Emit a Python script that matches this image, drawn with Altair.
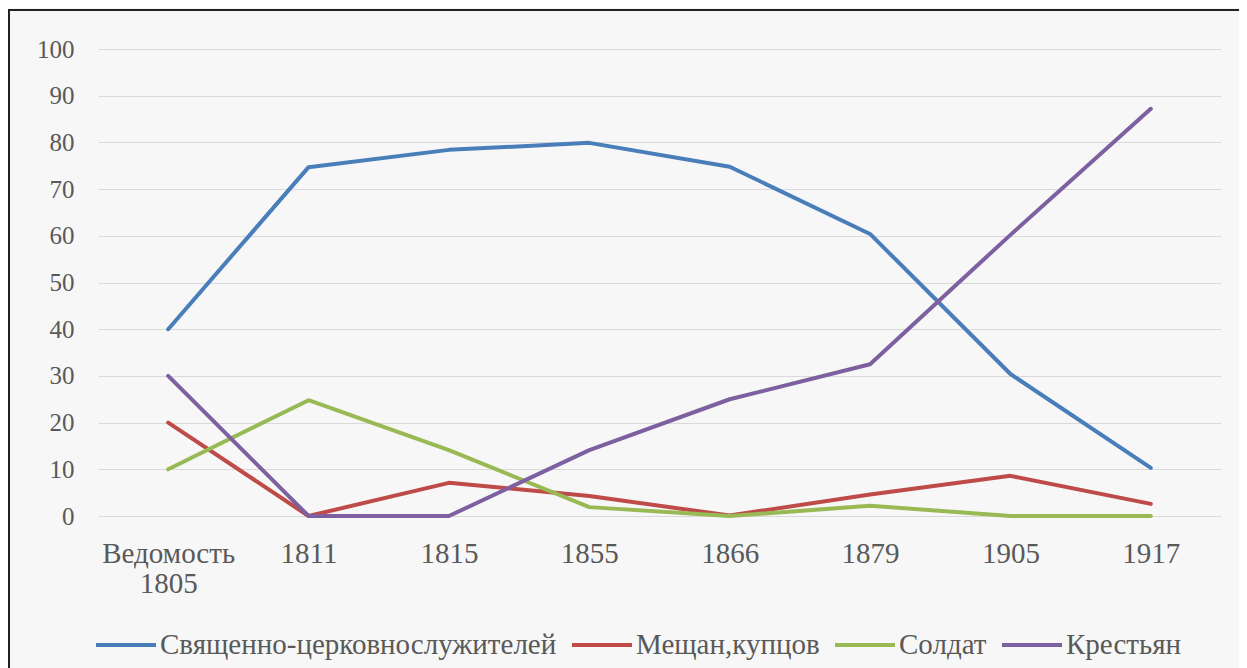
import altair as alt
import pandas as pd

categories = ["Ведомость 1805", "1811", "1815", "1855", "1866", "1879", "1905", "1917"]
series_names = ["Священно-церковнослужителей", "Мещан,купцов", "Солдат", "Крестьян"]
clergy = [40, 74.7, 78.4, 79.9, 74.8, 60.4, 30.4, 10.3]
merchants = [20, 0, 7.1, 4.3, 0.1, 4.6, 8.6, 2.6]
soldiers = [10, 24.8, 14.1, 1.9, 0, 2.2, 0, 0]
peasants = [30, 0, 0, 14.1, 25.0, 32.5, 60.2, 87.2]
colors = ["#4A7EBB", "#BE4B48", "#98B954", "#7D60A0"]
y_ticks = list(range(0, 101, 10))

rows = []
for name, vals in zip(series_names, [clergy, merchants, soldiers, peasants]):
    for c, v in zip(categories, vals):
        rows.append({"cat": c, "series": name, "value": v})
df = pd.DataFrame(rows)

FONT = "Liberation Serif"
GREY = "#595959"

lines = alt.Chart(df).mark_line(strokeWidth=4, strokeCap="round", strokeJoin="round").encode(
    x=alt.X("cat:N", sort=categories, scale=alt.Scale(type="point", padding=0.5),
            axis=alt.Axis(title=None, labelAngle=0, domain=False, ticks=False, grid=False,
                          labelPadding=23, labelFontSize=29, labelColor=GREY, labelFont=FONT,
                          labelLineHeight=30,
                          labelExpr="datum.label == 'Ведомость 1805' ? ['Ведомость', '1805'] : datum.label")),
    y=alt.Y("value:Q", scale=alt.Scale(domain=[0, 100], nice=False),
            axis=alt.Axis(title=None, values=y_ticks, domain=False, ticks=False, grid=True,
                          gridColor="#D9D9D9", gridWidth=1, labelPadding=24, labelFontSize=25,
                          labelColor=GREY, labelFont=FONT)),
    color=alt.Color("series:N", sort=series_names,
                    scale=alt.Scale(domain=series_names, range=colors),
                    legend=alt.Legend(title=None, orient="none", direction="horizontal",
                                      legendX=-4, legendY=564, symbolType="stroke",
                                      symbolSize=3600, symbolStrokeWidth=4, labelFontSize=29,
                                      labelFont=FONT, labelColor=GREY, labelOffset=2,
                                      columnPadding=7, labelLimit=600)),
)

frame = alt.Chart(pd.DataFrame({"a": [0]})).mark_rect(
    fill=None, stroke="#222222", strokeWidth=2
).encode(
    x=alt.value(-89), x2=alt.value(1300), y=alt.value(-39), y2=alt.value(700)
)

chart = alt.layer(lines, frame).properties(
    width=1123, height=467,
    autosize=alt.AutoSizeParams(type="none"),
    padding={"left": 90, "top": 41, "right": 18, "bottom": 152},
    background="#F7F7F7",
).configure_view(stroke=None)

chart.save("out.html", embed_options={"renderer": "svg", "actions": False})
